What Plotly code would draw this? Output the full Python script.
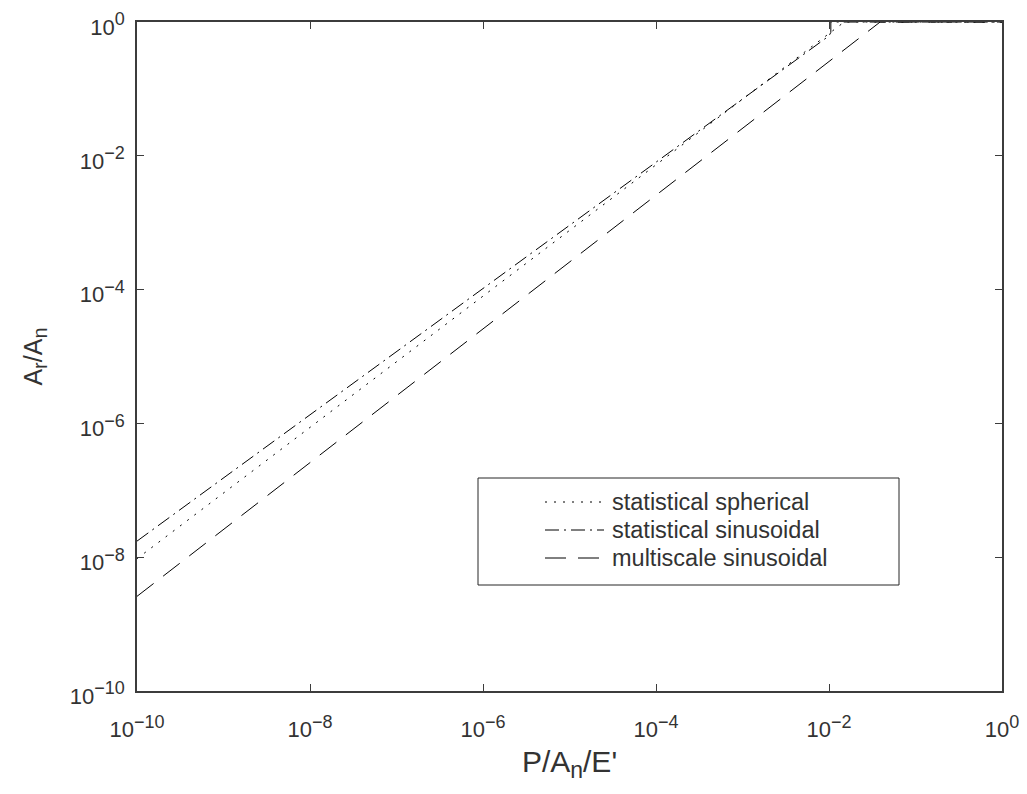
import plotly.graph_objects as go

# Dimensionless load P/A_n/E'
p_spherical = [1e-10, 1e-8, 1e-6, 1e-4, 1e-2, 1.5e-2, 1.0]
ar_spherical = [9.5e-9, 8.7e-7, 7.9e-5, 7.2e-3, 0.66, 1.0, 1.0]

p_sinusoidal = [1e-10, 1e-8, 1e-6, 1e-4, 1e-2, 1.05e-2, 1.05e-2, 1.0]
ar_sinusoidal = [1.74e-8, 1.35e-6, 1.05e-4, 7.9e-3, 0.62, 0.70, 1.0, 1.0]

p_multiscale = [1e-10, 1e-8, 1e-6, 1e-4, 1e-2, 3.9e-2, 1.0]
ar_multiscale = [2.6e-9, 2.6e-7, 2.6e-5, 2.6e-3, 0.26, 1.0, 1.0]

names = ["statistical spherical", "statistical sinusoidal", "multiscale sinusoidal"]
dashes = ["2px,7px", "14px,5px,2px,5px", "21px,12px"]

tick_vals = [1e-10, 1e-8, 1e-6, 1e-4, 1e-2, 1]
tick_exps = ["\u221210", "\u22128", "\u22126", "\u22124", "\u22122", "0"]
tick_text = ["10<sup><span style='font-size:18px'>%s</span></sup>" % e for e in tick_exps]

FONT = "Liberation Sans, Arial, sans-serif"
AXC = "#3c3c3c"
TXT = "#333333"

fig = go.Figure()
series = [(p_spherical, ar_spherical), (p_sinusoidal, ar_sinusoidal), (p_multiscale, ar_multiscale)]
for (xs, ys), nm, ds in zip(series, names, dashes):
    fig.add_trace(go.Scatter(x=xs, y=ys, mode="lines", name=nm, showlegend=False,
                             line=dict(color="black", width=1, dash=ds)))

axis_common = dict(
    type="log", range=[-10, 0], tickvals=tick_vals, ticktext=tick_text,
    showgrid=False, zeroline=False, showline=True, linecolor=AXC, linewidth=1.5,
    mirror="ticks", ticks="inside", ticklen=7, tickwidth=1, tickcolor=AXC,
    tickfont=dict(family=FONT, size=22, color=TXT), automargin=False,
)

fig.update_xaxes(**axis_common, ticklabelstandoff=18,
                 title=dict(text="P/A<sub><span style='font-size:23px'>n</span></sub>/E'",
                            font=dict(family=FONT, size=30, color=TXT), standoff=10))
fig.update_yaxes(**axis_common, ticklabelstandoff=6, ticklabelshift=5,
                 title=dict(text="A<sub><span style='font-size:20px'>r</span></sub>/A<sub><span style='font-size:20px'>n</span></sub>",
                            font=dict(family=FONT, size=25, color=TXT), standoff=20))

# Legend box drawn manually (paper coords)
W, H = 1027, 794
ml, mr, mt, mb = 137, 25, 22, 103
pw, ph = W - ml - mr, H - mt - mb

def px(x):
    return (x - ml) / pw

def py(y):
    return (H - mb - y) / ph

shapes = [dict(type="rect", xref="paper", yref="paper",
               x0=px(478), x1=px(899), y0=py(585), y1=py(478),
               line=dict(color="#262626", width=1), fillcolor="white", layer="above")]
annotations = []
rows = [502, 530, 558]
for nm, ds, yy in zip(names, dashes, rows):
    shapes.append(dict(type="line", xref="paper", yref="paper",
                       x0=px(545), x1=px(604), y0=py(yy), y1=py(yy),
                       line=dict(color="black", width=1, dash=ds), layer="above"))
    annotations.append(dict(xref="paper", yref="paper", x=px(610), y=py(yy),
                            text=nm, showarrow=False, xanchor="left", yanchor="middle",
                            font=dict(family=FONT, size=23.5, color=TXT)))

fig.update_layout(
    width=W, height=H, autosize=False,
    margin=dict(l=ml, r=mr, t=mt, b=mb),
    paper_bgcolor="white", plot_bgcolor="white",
    shapes=shapes, annotations=annotations,
    showlegend=False,
)

fig.write_html("out.html")
